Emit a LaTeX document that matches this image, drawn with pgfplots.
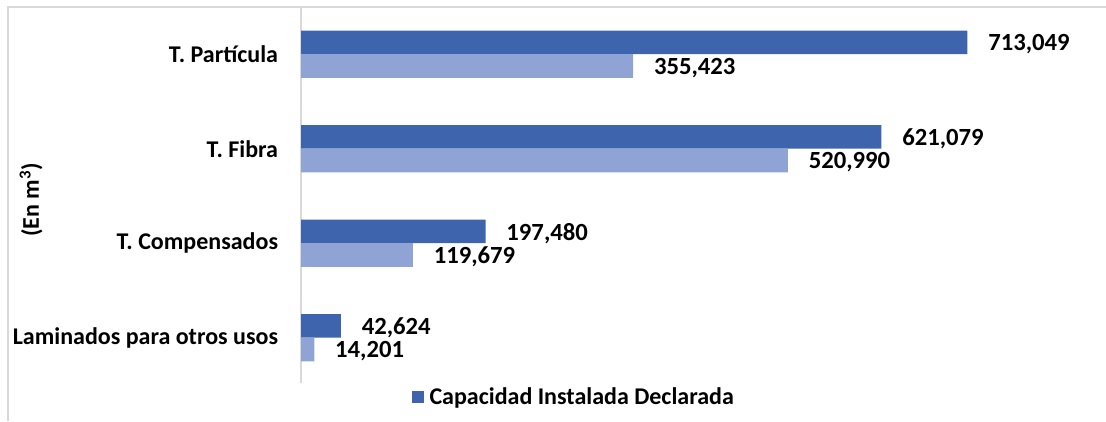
\documentclass[border=0pt]{standalone}
\usepackage{fontspec}
\setmainfont{Carlito}
\usepackage{pgfplots}
\pgfplotsset{compat=1.18}
\definecolor{darkbar}{RGB}{61,100,173}
\definecolor{lightbar}{RGB}{143,164,213}
\definecolor{framegray}{RGB}{217,217,217}
\begin{document}
\begin{tikzpicture}
% 1 px of the reference = 0.75pt
\path[use as bounding box] (0pt,0pt) rectangle (829.5pt,315.75pt);
% outer chart frame (only top and left edges visible)
\draw[framegray,line width=1.2pt] (6pt,0pt) -- (6pt,310.5pt) -- (829.5pt,310.5pt);
\begin{axis}[
    at={(225.75pt,28.5pt)}, anchor=south west,
    scale only axis, width=599.25pt, height=282pt,
    xbar=0pt, bar width=0.25,
    xmin=0, xmax=855000, ymin=-0.48, ymax=3.5,
    axis lines*=left,
    x axis line style={draw=none},
    y axis line style={draw=framegray,line width=1.2pt},
    xtick=\empty,
    ytick={0,1,2,3},
    yticklabels={Laminados para otros usos, T. Compensados, T. Fibra, T. Partícula},
    major tick length=0pt,
    yticklabel style={font=\fontsize{18}{21}\selectfont\bfseries, inner sep=0pt, xshift=-17pt},
    nodes near coords,
    nodes near coords style={font=\fontsize{18.5}{21}\selectfont\bfseries, anchor=west, inner sep=0pt, xshift=15.5pt, yshift=-1.5pt,
        /pgf/number format/.cd, fixed, precision=0, 1000 sep={,}, assume math mode=true},
    legend style={draw=none, at={(0.138,-0.037)}, anchor=west, inner sep=0pt,
        font=\fontsize{18}{21}\selectfont\bfseries,
        /tikz/every odd column/.append style={column sep=2.5pt}},
    legend image code/.code={\fill[#1] (0pt,-4.5pt) rectangle (9pt,4.5pt);},
    clip=false,
]
\addplot[fill=darkbar, draw=none, bar shift=0.125] coordinates {
    (42624,0) (197480,1) (621079,2) (713049,3)};
\addlegendentry{Capacidad Instalada Declarada}
\addplot[fill=lightbar, draw=none, bar shift=-0.125, forget plot] coordinates {
    (14201,0) (119679,1) (520990,2) (355423,3)};
\end{axis}
\node[rotate=90, font=\fontsize{18}{21}\selectfont\bfseries] at (23.25pt,165.75pt) {(En m\textsuperscript{3})};
\end{tikzpicture}
\end{document}
